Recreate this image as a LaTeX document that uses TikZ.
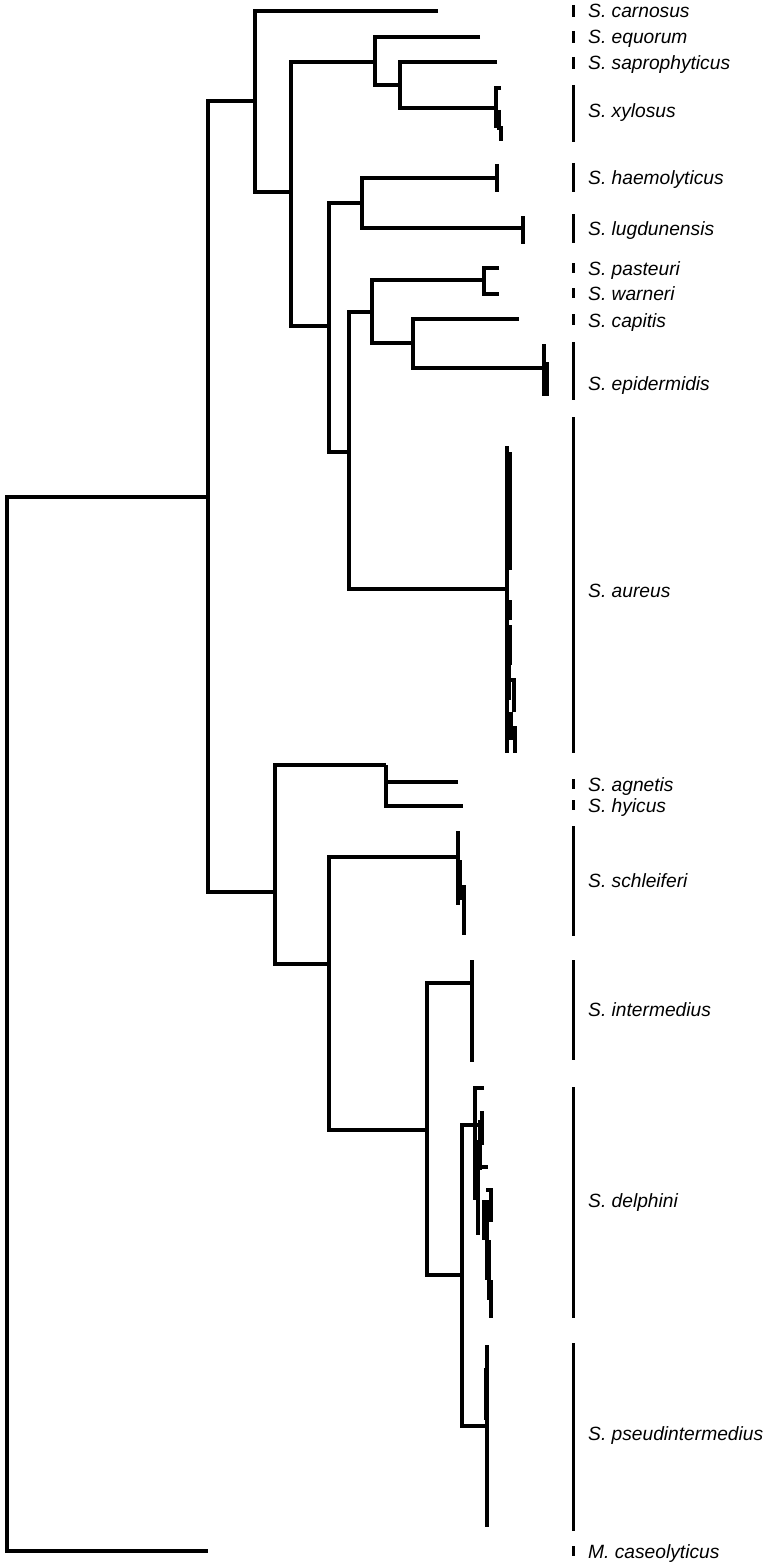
\documentclass[tikz,border=0pt]{standalone}
\usepackage{fontspec}
\setmainfont{Liberation Sans}
\begin{document}
\begin{tikzpicture}[x=1pt,y=-1pt,
  br/.style={line width=4pt,line join=miter},
  jit/.style={line width=4pt},
  labbar/.style={line width=3pt},
  lab/.style={anchor=base west,inner sep=0pt,font=\fontsize{19.2}{19}\selectfont\itshape}]
\useasboundingbox (0,0) rectangle (766,1565);
% internal nodes
\coordinate (R) at (7,1000);
\coordinate (A) at (208,497);
\coordinate (B) at (255,101);
\coordinate (C) at (291,192);
\coordinate (D) at (375,62);
\coordinate (E) at (400,85);
\coordinate (F) at (329,326);
\coordinate (G) at (362,203);
\coordinate (H) at (349,452);
\coordinate (I) at (372,312);
\coordinate (PW) at (484,280);
\coordinate (J) at (413,343);
\coordinate (K) at (275,892);
\coordinate (L) at (386,765);
\coordinate (M) at (329,964);
\coordinate (N) at (427,1130);
\coordinate (O) at (462,1275);
% tips / clades
\coordinate (tmca) at (208,1551);
\coordinate (tcar) at (438,11);
\coordinate (tequ) at (480,37);
\coordinate (tsap) at (497,62);
\coordinate (txyl) at (496,108);
\coordinate (thae) at (497,178);
\coordinate (tlug) at (522,228);
\coordinate (tpas) at (499,268);
\coordinate (twar) at (499,294);
\coordinate (tcap) at (519,319);
\coordinate (tepi) at (544,368);
\coordinate (taur) at (507,589);
\coordinate (tagn) at (458,782);
\coordinate (thyi) at (463,806);
\coordinate (tsch) at (458,857);
\coordinate (tint) at (472,983);
\coordinate (tdel) at (478,1125);
\coordinate (tpse) at (487,1426);
% tree branches
\draw[br] (A) -| (R) |- (tmca);
\draw[br] (B) -| (A) |- (K);
\draw[br] (tcar) -| (B) |- (C);
\draw[br] (D) -| (C) |- (F);
\draw[br] (tequ) -| (D) |- (E);
\draw[br] (tsap) -| (E) |- (txyl);
\draw[br] (G) -| (F) |- (H);
\draw[br] (thae) -| (G) |- (tlug);
\draw[br] (I) -| (H) |- (taur);
\draw[br] (PW) -| (I) |- (J);
\draw[br] (tpas) -| (PW) |- (twar);
\draw[br] (tcap) -| (J) |- (tepi);
\draw[br] (L) -| (K) |- (M);
\draw[br] (tagn) -| (L) |- (thyi);
\draw[br] (tsch) -| (M) |- (N);
\draw[br] (tint) -| (N) |- (O);
\draw[br] (tdel) -| (O) |- (tpse);
% within-species clusters
\draw[jit] (501,88) -- (496,88) -- (496,128);
\draw[jit] (499,110) -- (499,128) -- (501,128) -- (501,141);
\draw[jit] (497,164) -- (497,192);
\draw[jit] (523,216) -- (523,244);
\draw[jit] (544,344) -- (544,396);
\draw[line width=5pt] (546,362) -- (546,396);
\draw[jit] (507,446) -- (507,753);
\draw[line width=5pt] (509,452) -- (509,570);
\draw[jit] (510,600) -- (510,620);
\draw[jit] (510,625) -- (510,665);
\draw[jit] (509,665) -- (509,700);
\draw[jit] (510,680) -- (514,680) -- (514,712);
\draw[jit] (511,712) -- (511,740);
\draw[jit] (512,728) -- (515,728) -- (515,753);
\draw[jit] (458,831) -- (458,905);
\draw[jit] (460,860) -- (460,900);
\draw[jit] (464,885) -- (464,935);
\draw[jit] (472,960) -- (472,1062);
\draw[jit] (484,1088) -- (475,1088) -- (475,1200);
\draw[jit] (484,1113) -- (482,1113) -- (482,1145);
\draw[jit] (480,1120) -- (480,1170);
\draw[jit] (478,1140) -- (478,1235);
\draw[jit] (478,1167) -- (488,1167);
\draw[jit] (486,1190) -- (491,1190) -- (491,1222);
\draw[jit] (484,1200) -- (484,1240);
\draw[jit] (487,1200) -- (487,1280);
\draw[jit] (489,1240) -- (489,1300);
\draw[jit] (491,1280) -- (491,1318);
\draw[jit] (487,1345) -- (487,1527);
\draw[line width=5pt] (486,1368) -- (486,1420);
% label bars
\foreach \a/\b in {5/17,31/43,57/69,85/142,163/192,214/243,263/273,288/298,314/325,342/400,417/753,779/789,800/810,826/936,960/1060,1087/1318,1343/1531,1546/1556}
  \draw[labbar] (573,\a) -- (573,\b);
% labels
\node[lab] (lcar) at (588,18) {S. carnosus};
\node[lab] (lequ) at (588,44) {S. equorum};
\node[lab] (lsap) at (588,70) {S. saprophyticus};
\node[lab] (lxyl) at (588,118) {S. xylosus};
\node[lab] (lhae) at (588,185) {S. haemolyticus};
\node[lab] (llug) at (588,235) {S. lugdunensis};
\node[lab] (lpas) at (588,275) {S. pasteuri};
\node[lab] (lwar) at (588,300) {S. warneri};
\node[lab] (lcap) at (588,327) {S. capitis};
\node[lab] (lepi) at (588,390) {S. epidermidis};
\node[lab] (laur) at (588,597) {S. aureus};
\node[lab] (lagn) at (588,791) {S. agnetis};
\node[lab] (lhyi) at (588,812) {S. hyicus};
\node[lab] (lsch) at (588,887) {S. schleiferi};
\node[lab] (lint) at (588,1016) {S. intermedius};
\node[lab] (ldel) at (588,1207) {S. delphini};
\node[lab] (lpse) at (588,1440) {S. pseudintermedius};
\node[lab] (lmca) at (588,1558) {M. caseolyticus};
\end{tikzpicture}
\end{document}
